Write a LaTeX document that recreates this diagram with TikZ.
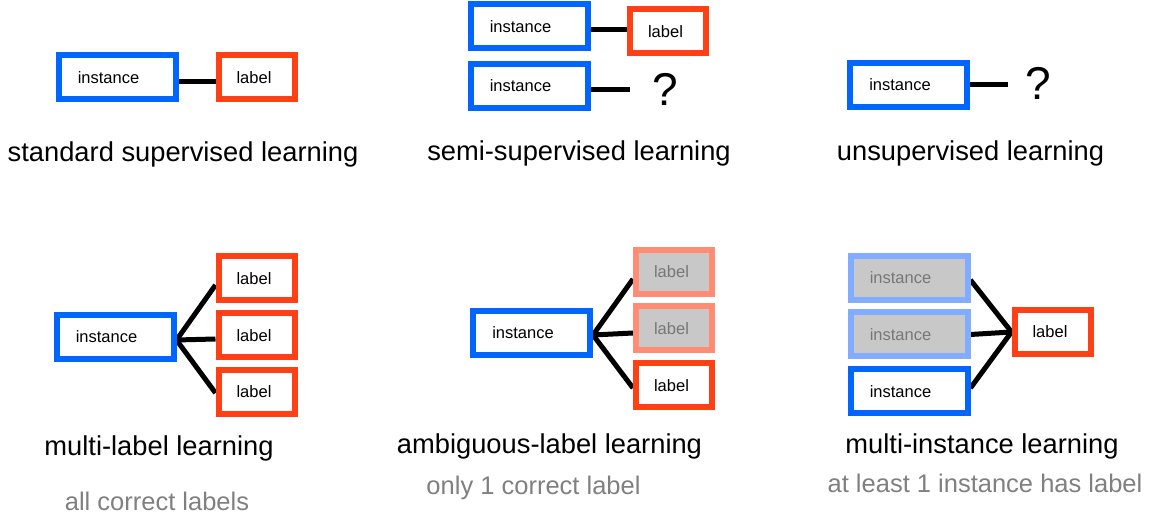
\documentclass[tikz,border=0pt]{standalone}
\usepackage{fontspec}
\setmainfont{Liberation Sans}
\usetikzlibrary{backgrounds}

\definecolor{instblue}{HTML}{0066FF}
\definecolor{labred}{HTML}{FF4015}
\definecolor{instfade}{HTML}{82ACFF}
\definecolor{labfade}{HTML}{FF8C73}
\definecolor{fadegray}{HTML}{C8C8C8}
\definecolor{fadetext}{HTML}{777777}
\definecolor{notegray}{HTML}{808080}

\tikzset{
  box/.style={draw, line width=6pt, fill=white, inner sep=0pt,
    minimum height=44pt, font=\fontsize{16.5}{19}\selectfont},
  instbox/.style={box, draw=instblue, minimum width=117pt},
  labbox/.style={box, draw=labred, minimum width=76pt},
  faded/.style={fill=fadegray, text=fadetext},
  fadedinst/.style={instbox, faded, draw=instfade},
  fadedlab/.style={labbox, faded, draw=labfade},
  link/.style={line width=5pt, black},
  title/.style={anchor=base, font=\fontsize{27.3}{32}\selectfont},
  note/.style={anchor=base, text=notegray, font=\fontsize{25.5}{30}\selectfont},
  query/.style={font=\fontsize{46}{52}\selectfont},
}
\newcommand{\instxt}{\hspace*{-8.5pt}instance\hspace*{8.5pt}}
\newcommand{\labtxt}{\hspace*{-2.5pt}label\hspace*{2.5pt}}

\begin{document}
\begin{tikzpicture}[x=1pt, y=-1pt]
\useasboundingbox (0,0) rectangle (1154,518);

% standard supervised learning
\node[instbox] (sI) at (117,77.5) {\instxt};
\node[labbox]  (sL) at (256.5,77.5) {\labtxt};
\node[title] (sT) at (183,162) {standard supervised learning};

% semi-supervised learning
\node[instbox] (mIa) at (529,26.5) {\instxt};
\node[labbox]  (mL)  at (668,31.5) {\labtxt};
\node[instbox] (mIb) at (529,86) {\instxt};
\coordinate (mE) at (630,90);
\node[query] (mQ) at (665,89) {?};
\node[title] (mT) at (579,160.5) {semi-supervised learning};

% unsupervised learning
\node[instbox] (uI) at (908.5,85) {\instxt};
\coordinate (uE) at (1008,85);
\node[query] (uQ) at (1038,83) {?};
\node[title] (uT) at (970.5,160.5) {unsupervised learning};

% multi-label learning
\node[instbox] (lI)  at (115,337) {\instxt};
\node[labbox]  (lL1) at (256.5,278.5) {\labtxt};
\node[labbox]  (lL2) at (256.5,335.5) {\labtxt};
\node[labbox]  (lL3) at (256.5,392) {\labtxt};
\node[title] (lT) at (159,455) {multi-label learning};
\node[note]  (lN) at (157,510) {all correct labels};

% ambiguous-label learning
\node[instbox]  (aI)  at (531.5,333) {\instxt};
\node[fadedlab] (aL1) at (674,272) {\labtxt};
\node[fadedlab] (aL2) at (674,328.5) {\labtxt};
\node[labbox]   (aL3) at (674,385.5) {\labtxt};
\node[title] (aT) at (549.5,453.3) {ambiguous-label learning};
\node[note]  (aN) at (533.5,494) {only 1 correct label};

% multi-instance learning
\node[fadedinst] (iI1) at (909,278) {\instxt};
\node[fadedinst] (iI2) at (909,334.5) {\instxt};
\node[instbox]   (iI3) at (909,391.5) {\instxt};
\node[labbox]    (iL)  at (1052.5,332) {\labtxt};
\node[title] (iT) at (982,453.3) {multi-instance learning};
\node[note]  (iN) at (985,492) {at least 1 instance has label};

\begin{pgfonlayer}{background}
  \draw[link] ([yshift=-4pt]sI.east) -- ([yshift=-4pt]sL.west);
  \draw[link] ([yshift=-3.5pt]mIa.east) -- ([yshift=1.5pt]mL.west);
  \draw[link] ([yshift=-4pt]mIb.east) -- (mE);
  \draw[link] (uI.east) -- (uE);
  \draw[link] ([yshift=-3pt]lI.east) -- ([yshift=-6.5pt]lL1.west);
  \draw[link] ([yshift=-3pt]lI.east) -- ([yshift=-3.5pt]lL2.west);
  \draw[link] ([yshift=-3pt]lI.east) -- ([yshift=-1pt]lL3.west);
  \draw[link] ([yshift=-2pt]aI.east) -- ([yshift=-7pt]aL1.west);
  \draw[link] ([yshift=-2pt]aI.east) -- ([yshift=-4.5pt]aL2.west);
  \draw[link] ([yshift=-2pt]aI.east) -- ([yshift=-2.5pt]aL3.west);
  \draw[link] ([yshift=-2pt]iI1.east) -- (iL.west);
  \draw[link] (iI2.east) -- (iL.west);
  \draw[link] ([yshift=3.5pt]iI3.east) -- (iL.west);
\end{pgfonlayer}
\end{tikzpicture}
\end{document}
